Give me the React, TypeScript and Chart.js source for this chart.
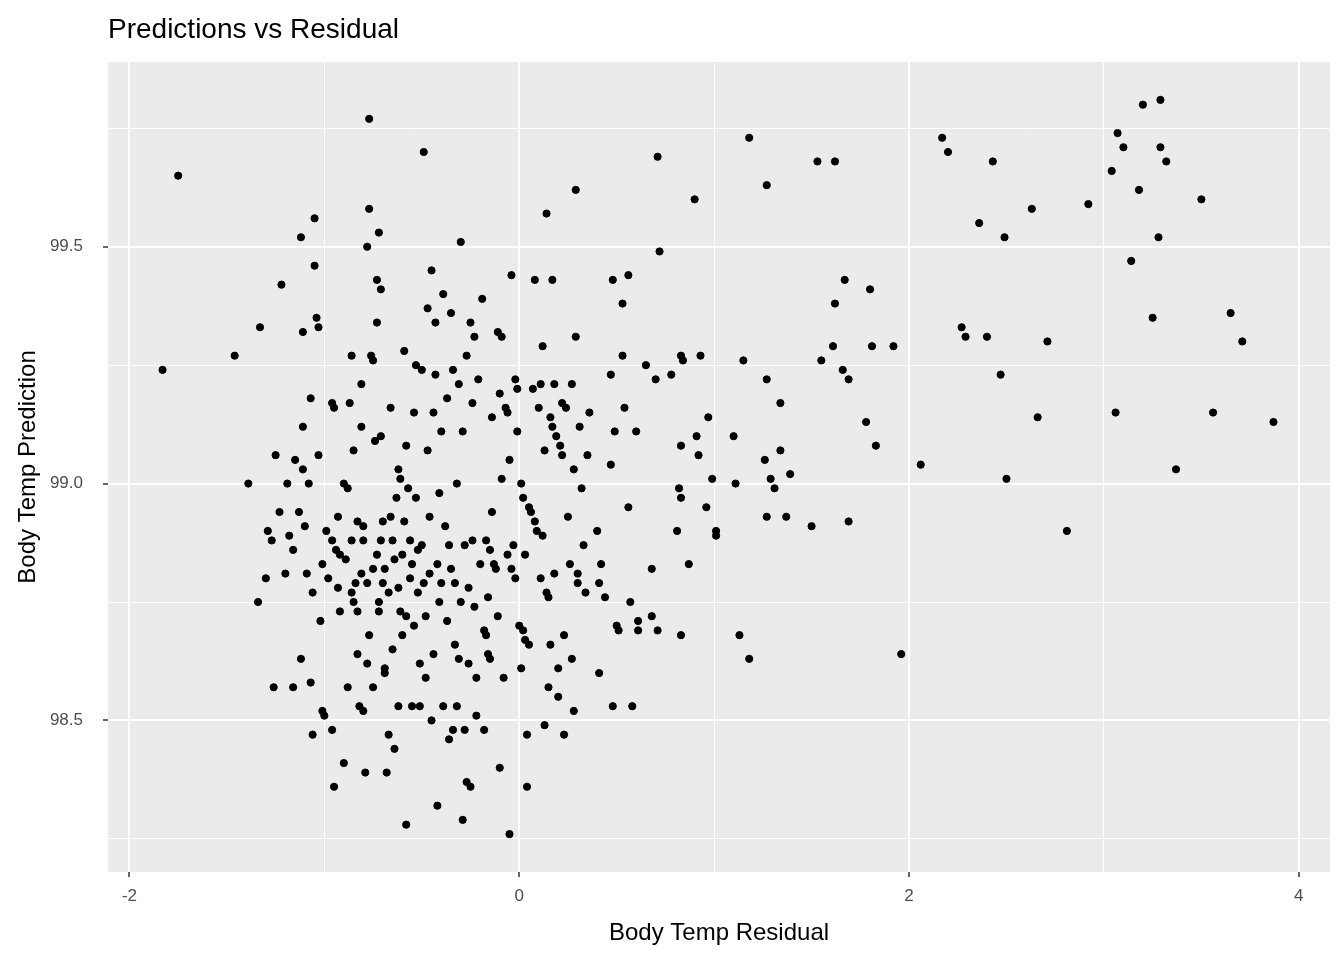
import React, { useEffect, useRef } from "react";
import { Chart, registerables } from "chart.js";
Chart.register(...registerables);

const residuals = [-1.83,-1.75,-1.46,-1.39,-1.34,-1.33,-1.30,-1.29,-1.27,-1.26,-1.25,-1.23,-1.22,-1.19,-1.20,-1.18,-1.16,-1.16,-1.15,-1.13,-1.12,-1.12,-1.11,-1.11,-1.11,-1.10,-1.09,-1.08,-1.07,-1.06,-1.06,-1.07,-1.05,-1.05,-1.04,-1.03,-1.03,-1.02,-1.01,-1.01,-1.00,-0.99,-0.98,-0.96,-0.96,-0.96,-0.95,-0.95,-0.94,-0.93,-0.93,-0.92,-0.92,-0.90,-0.90,-0.89,-0.88,-0.88,-0.87,-0.86,-0.86,-0.86,-0.85,-0.85,-0.84,-0.83,-0.83,-0.83,-0.82,-0.81,-0.81,-0.81,-0.80,-0.80,-0.80,-0.79,-0.78,-0.78,-0.78,-0.77,-0.77,-0.77,-0.76,-0.75,-0.75,-0.75,-0.74,-0.73,-0.73,-0.73,-0.72,-0.72,-0.72,-0.71,-0.71,-0.71,-0.70,-0.70,-0.69,-0.69,-0.69,-0.68,-0.67,-0.67,-0.66,-0.66,-0.65,-0.65,-0.64,-0.64,-0.63,-0.62,-0.62,-0.62,-0.61,-0.61,-0.60,-0.60,-0.59,-0.59,-0.58,-0.58,-0.58,-0.57,-0.56,-0.56,-0.55,-0.55,-0.54,-0.54,-0.53,-0.53,-0.52,-0.52,-0.51,-0.51,-0.50,-0.50,-0.49,-0.49,-0.48,-0.48,-0.47,-0.47,-0.46,-0.46,-0.45,-0.45,-0.44,-0.44,-0.43,-0.43,-0.42,-0.42,-0.41,-0.41,-0.40,-0.40,-0.39,-0.39,-0.38,-0.37,-0.37,-0.36,-0.36,-0.35,-0.35,-0.34,-0.34,-0.33,-0.33,-0.32,-0.32,-0.31,-0.31,-0.30,-0.30,-0.29,-0.29,-0.28,-0.28,-0.27,-0.27,-0.26,-0.26,-0.25,-0.25,-0.24,-0.24,-0.23,-0.23,-0.22,-0.22,-0.21,-0.20,-0.19,-0.18,-0.18,-0.17,-0.17,-0.16,-0.16,-0.15,-0.15,-0.14,-0.14,-0.13,-0.12,-0.11,-0.11,-0.10,-0.10,-0.09,-0.09,-0.08,-0.07,-0.06,-0.06,-0.05,-0.05,-0.04,-0.04,-0.03,-0.02,-0.02,-0.01,-0.01,0.00,0.01,0.01,0.02,0.02,0.03,0.03,0.04,0.04,0.05,0.05,0.06,0.07,0.08,0.08,0.09,0.10,0.11,0.11,0.12,0.12,0.13,0.13,0.14,0.14,0.15,0.15,0.16,0.16,0.17,0.17,0.18,0.18,0.19,0.20,0.20,0.21,0.22,0.22,0.23,0.23,0.24,0.25,0.26,0.27,0.27,0.28,0.28,0.29,0.29,0.30,0.30,0.31,0.32,0.33,0.34,0.35,0.36,0.40,0.41,0.41,0.42,0.44,0.47,0.47,0.48,0.48,0.49,0.50,0.51,0.53,0.53,0.54,0.56,0.56,0.57,0.58,0.60,0.61,0.61,0.65,0.68,0.68,0.70,0.71,0.71,0.72,0.78,0.81,0.82,0.83,0.83,0.83,0.83,0.84,0.87,0.90,0.91,0.93,0.92,0.96,0.97,0.99,1.01,1.01,1.10,1.11,1.13,1.15,1.18,1.18,1.27,1.26,1.27,1.27,1.29,1.31,1.34,1.34,1.37,1.39,1.50,1.53,1.55,1.61,1.62,1.62,1.66,1.67,1.69,1.69,1.78,1.80,1.81,1.83,1.92,1.96,2.06,2.17,2.20,2.27,2.29,2.36,2.40,2.43,2.47,2.49,2.50,2.63,2.66,2.71,2.81,2.92,3.04,3.06,3.07,3.10,3.14,3.18,3.20,3.25,3.28,3.29,3.29,3.32,3.37,3.50,3.56,3.65,3.71,3.87];

const predictions = [99.24,99.65,99.27,99.00,98.75,99.33,98.80,98.90,98.88,98.57,99.06,98.94,99.42,99.00,98.81,98.89,98.86,98.57,99.05,98.94,98.63,99.52,99.12,99.32,99.03,98.91,98.81,99.00,98.58,98.47,98.77,99.18,99.46,99.56,99.35,99.06,99.33,98.71,98.52,98.83,98.51,98.90,98.80,98.48,98.88,99.17,99.16,98.36,98.86,98.78,98.93,98.73,98.85,99.00,98.41,98.84,98.99,98.57,99.17,98.77,99.27,98.88,99.07,98.75,98.79,98.64,98.92,98.73,98.53,99.12,98.81,99.21,98.91,98.88,98.52,98.39,98.79,98.62,99.50,99.58,98.68,99.77,99.27,98.82,99.26,98.57,99.09,99.34,98.85,99.43,98.75,99.53,98.73,98.88,99.41,99.10,98.92,98.79,98.61,98.60,98.82,98.39,98.47,98.77,98.93,99.16,98.88,98.65,98.44,98.84,98.97,99.03,98.53,98.78,98.73,99.01,98.68,98.85,98.92,99.28,99.08,98.28,98.72,98.99,98.88,98.80,98.53,98.83,98.70,99.15,99.25,98.97,98.86,98.77,98.62,98.53,99.24,98.87,99.70,98.79,98.72,98.59,99.07,99.37,98.81,98.93,98.50,99.45,99.15,98.64,99.23,99.34,98.83,98.32,98.75,98.98,99.11,98.79,99.40,98.53,98.91,98.71,99.18,98.46,98.87,99.36,98.82,98.48,99.24,98.66,98.79,98.53,99.00,98.63,99.21,99.51,98.75,99.11,98.29,98.87,98.48,99.27,98.37,98.78,98.62,98.36,99.34,98.88,99.17,98.74,99.31,98.51,98.59,99.22,98.83,99.39,98.69,98.48,98.88,98.68,98.64,98.76,98.86,98.63,98.94,99.14,98.83,98.82,99.32,98.72,99.19,98.40,99.01,99.31,98.59,99.16,99.15,98.85,98.26,99.05,99.44,98.82,98.87,99.22,98.80,99.11,99.20,98.70,99.00,98.61,98.69,98.97,98.67,98.85,98.47,98.36,98.95,98.66,98.94,99.20,98.92,99.43,98.90,99.16,99.21,98.80,99.29,98.89,98.49,99.07,99.57,98.77,98.57,98.76,99.14,98.66,99.43,99.12,98.81,99.21,99.10,98.55,98.61,99.08,99.06,99.17,98.68,98.47,99.16,98.93,98.83,99.21,98.63,99.03,98.52,99.62,99.31,98.81,98.79,99.12,98.99,98.87,98.77,99.06,99.15,98.90,98.79,98.60,98.83,98.76,99.23,99.04,99.43,98.53,99.11,98.70,98.69,99.38,99.27,99.16,99.44,98.95,98.75,98.53,99.11,98.71,98.69,99.25,98.82,98.72,99.22,98.69,99.69,99.49,99.23,98.90,98.99,99.27,98.97,99.08,98.68,99.26,98.83,99.60,99.10,99.27,99.06,98.95,99.14,99.01,98.90,98.89,99.10,99.00,98.68,99.26,99.73,98.63,99.63,99.05,98.93,99.22,99.01,98.99,99.07,99.17,98.93,99.02,98.91,99.68,99.26,99.29,99.68,99.38,99.24,99.43,99.22,98.92,99.13,99.41,99.29,99.08,99.29,98.64,99.04,99.73,99.70,99.33,99.31,99.55,99.31,99.68,99.23,99.52,99.01,99.58,99.14,99.30,98.90,99.59,99.66,99.15,99.74,99.71,99.47,99.62,99.80,99.35,99.52,99.71,99.81,99.68,99.03,99.60,99.15,99.36,99.30,99.13];

const xTicks = [-2, -1, 0, 1, 2, 3, 4];
const yMajorLabels = ["98.5", "99.0", "99.5"];

const FONT = "'Liberation Sans', Arial, sans-serif";

export default function App() {
  const ref = useRef<HTMLCanvasElement>(null);
  useEffect(() => {
    document.body.style.margin = "0";
    const n = Math.min(residuals.length, predictions.length);
    const pts = [];
    for (let i = 0; i < n; i++) pts.push({ x: residuals[i], y: predictions[i] });
    const isMajorY = (v: number) => Math.abs(v * 2 - Math.round(v * 2)) < 1e-6;
    const isMajorX = (v: number) => Math.abs(v / 2 - Math.round(v / 2)) < 1e-6;
    const panelBg = {
      id: "panelBg",
      beforeDraw(c: any) {
        const a = c.chartArea;
        const ctx = c.ctx;
        ctx.save();
        ctx.fillStyle = "#EBEBEB";
        ctx.fillRect(a.left, a.top, a.right - a.left, a.bottom - a.top);
        ctx.restore();
      },
      afterDraw(c: any) {
        const ctx = c.ctx;
        ctx.save();
        ctx.fillStyle = "#000";
        ctx.font = `28px ${FONT}`;
        ctx.textBaseline = "middle";
        ctx.fillText("Predictions vs Residual", 108, 30);
        ctx.restore();
      },
    };
    const chart = new Chart(ref.current!, {
      type: "scatter",
      data: {
        datasets: [{
          data: pts,
          backgroundColor: "#000",
          borderColor: "#000",
          pointRadius: 3.6,
          pointHoverRadius: 3.6,
        }],
      },
      plugins: [panelBg],
      options: {
        animation: false,
        responsive: false,
        layout: { padding: { top: 62, right: 14, left: 14, bottom: 12 } },
        plugins: { legend: { display: false }, tooltip: { enabled: false } },
        scales: {
          x: {
            type: "linear",
            min: -2.11,
            max: 4.16,
            afterBuildTicks(s: any) { s.ticks = xTicks.map((v) => ({ value: v })); },
            afterFit(s: any) { s.height = 76; },
            border: { display: false },
            grid: {
              color: "#FFFFFF",
              lineWidth: (c: any) => (isMajorX(c.tick?.value ?? 0) ? 2 : 1),
              tickColor: (c: any) => (isMajorX(c.tick?.value ?? 0) ? "#333333" : "rgba(0,0,0,0)"),
              tickLength: 5,
              tickWidth: 1.5,
            },
            ticks: {
              color: "#4D4D4D",
              font: { family: FONT, size: 17 },
              padding: 9,
              maxRotation: 0,
              callback: (v: any) => (isMajorX(Number(v)) ? String(v) : ""),
            },
            title: { display: true, text: "Body Temp Residual", color: "#000", font: { family: FONT, size: 24 }, padding: { top: 0, bottom: 0 } },
          },
          y: {
            type: "linear",
            min: 98.18,
            max: 99.89,
            afterBuildTicks(s: any) {
              s.ticks = [98.25, 98.5, 98.75, 99.0, 99.25, 99.5, 99.75].map((v) => ({ value: v }));
            },
            afterFit(s: any) { s.width = 94; },
            border: { display: false },
            grid: {
              color: "#FFFFFF",
              lineWidth: (c: any) => (isMajorY(c.tick?.value ?? 0) ? 2 : 1),
              tickColor: (c: any) => (isMajorY(c.tick?.value ?? 0) ? "#333333" : "rgba(0,0,0,0)"),
              tickLength: 5,
              tickWidth: 1.5,
            },
            ticks: {
              color: "#4D4D4D",
              font: { family: FONT, size: 17 },
              padding: 20,
              callback: (v: any) => {
                const n = Number(v);
                if (!isMajorY(n)) return "";
                const idx = Math.round((n - 98.5) * 2);
                return yMajorLabels[idx] ?? "";
              },
            },
            title: { display: true, text: "Body Temp Prediction", color: "#000", font: { family: FONT, size: 24 }, padding: { top: 0, bottom: 4 } },
          },
        },
      },
    });
    return () => chart.destroy();
  }, []);
  return <canvas ref={ref} width={1344} height={960} style={{ display: "block" }} />;
}
